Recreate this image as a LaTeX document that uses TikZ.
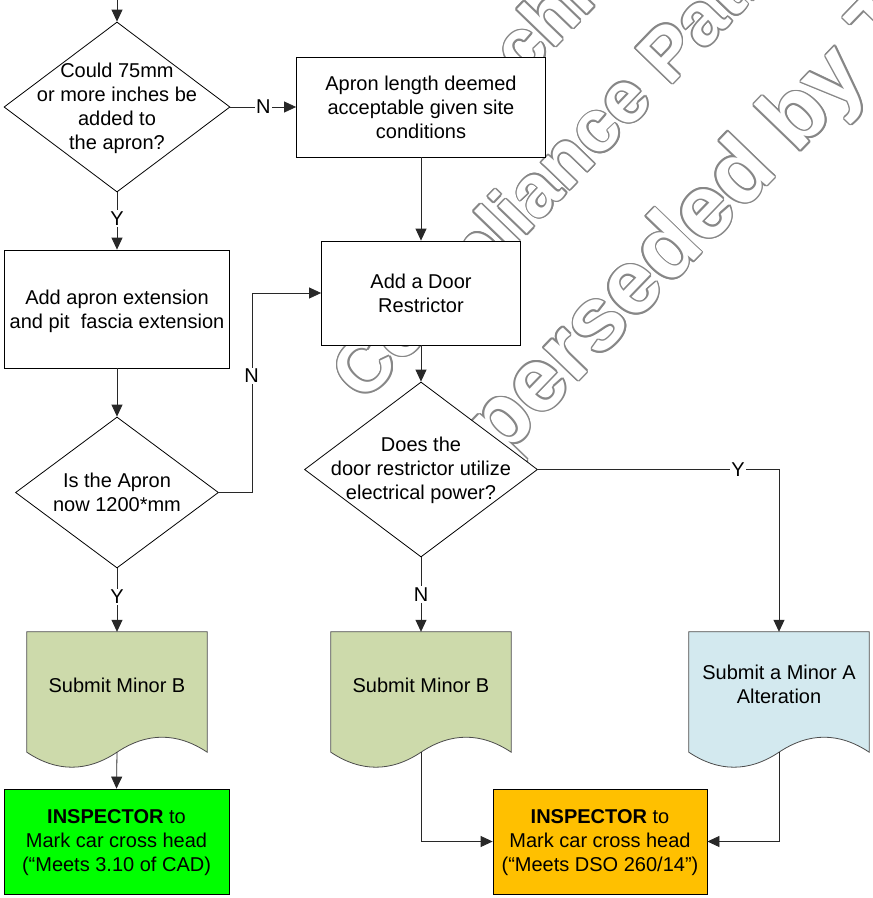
\documentclass[tikz,border=0pt]{standalone}
\usepackage{fontspec}
\setmainfont{Liberation Sans}
\usetikzlibrary{arrows.meta,shapes.geometric,calc}
\definecolor{olivefill}{RGB}{205,218,171}
\definecolor{bluefill}{RGB}{211,233,239}
\definecolor{insgreen}{RGB}{0,255,0}
\definecolor{insorange}{RGB}{255,192,0}
\definecolor{wmgray}{RGB}{135,135,135}
\definecolor{linegray}{RGB}{40,40,40}
\begin{document}
\begin{tikzpicture}[x=1pt,y=-1pt,
  every node/.style={font=\fontsize{20}{24}\selectfont},
  boxst/.style={draw=black, line width=0.8pt, rectangle, inner sep=0pt, align=center},
  decst/.style={draw=black, fill=white, line width=0.8pt, diamond, inner sep=0pt},
  txtst/.style={align=center, inner sep=0pt},
  conn/.style={draw=linegray, line width=0.8pt},
  arr/.style={conn, -{Triangle[length=12pt,width=11pt]}},
  lbl/.style={fill=white, inner sep=1.5pt},
  docst/.style={draw=black!70, line width=0.8pt},
  docnode/.style={minimum width=180pt, minimum height=120pt, inner sep=0pt},
  wmtext/.style={rotate=46, anchor=base west, inner sep=0pt},
  wmA/.style={font=\bfseries\fontsize{74}{74}\selectfont},
  wmC/.style={font=\bfseries\fontsize{90}{90}\selectfont}
]
\useasboundingbox (0,0) rectangle (873,898);
\fill[white] (0,0) rectangle (873,898);
% watermark
\begin{scope}
\clip (0,0) rectangle (873,898);
\foreach \a in {0,30,...,330} {
  \node[wmtext, wmA, text=wmgray] (wa\a) at ($(467.4,138.2)+(\a:1.6)$) {Technical};
  \node[wmtext, wmA, text=wmgray] (wb\a) at ($(363.5,403.6)+(\a:1.6)$) {Compliance Path};
  \node[wmtext, wmC, text=wmgray] (wc\a) at ($(421.3,543.5)+(\a:1.6)$) {Superseded by T};
}
\node[wmtext, wmA, text=white] (wa) at (467.4,138.2) {Technical};
\node[wmtext, wmA, text=white] (wb) at (363.5,403.6) {Compliance Path};
\node[wmtext, wmC, text=white] (wc) at (421.3,543.5) {Superseded by T};
\end{scope}

% decisions
\node[decst, minimum width=226pt, minimum height=170pt] (d1) at (117,107) {};
\node[txtst] (d1t) at (117,108.5) {Could 75mm\\or more inches be\\added to\\the apron?};
\node[decst, minimum width=203pt, minimum height=151pt] (d2) at (117,492.5) {};
\node[txtst] (d2t) at (117,492.5) {Is the Apron\\now 1200*mm};
\node[decst, minimum width=233pt, minimum height=175pt] (d3) at (421,469.5) {};
\node[txtst] (d3t) at (421,470.5) {Does the\\door restrictor utilize\\electrical power?};

% process boxes
\node[boxst, fill=white, minimum width=249pt, minimum height=100pt] (b2) at (421,107) {Apron length deemed\\acceptable given site\\conditions};
\node[boxst, fill=white, minimum width=199pt, minimum height=104pt] (b3) at (421,293) {Add a Door\\Restrictor};
\node[boxst, fill=white, minimum width=225pt, minimum height=118pt] (b4) at (117,309) {};
\node[txtst] (b4t) at (117,311) {Add apron extension\\and pit\ \ fascia extension};

% documents
\node[docnode] (doc1) at (117,692) {};
\path[docst, fill=olivefill] (doc1.south west) -- (doc1.north west) -- (doc1.north east) -- (doc1.south east) .. controls +(-30,-20) and +(30,-20) .. (doc1.south) .. controls +(-30,20) and +(30,20) .. (doc1.south west) -- cycle;
\node[txtst] (doc1t) at (117,685) {Submit Minor B};
\node[docnode] (doc2) at (421,692) {};
\path[docst, fill=olivefill] (doc2.south west) -- (doc2.north west) -- (doc2.north east) -- (doc2.south east) .. controls +(-30,-20) and +(30,-20) .. (doc2.south) .. controls +(-30,20) and +(30,20) .. (doc2.south west) -- cycle;
\node[txtst] (doc2t) at (421,685) {Submit Minor B};
\node[docnode] (doc3) at (779,692) {};
\path[docst, fill=bluefill] (doc3.south west) -- (doc3.north west) -- (doc3.north east) -- (doc3.south east) .. controls +(-30,-20) and +(30,-20) .. (doc3.south) .. controls +(-30,20) and +(30,20) .. (doc3.south west) -- cycle;
\node[txtst] (doc3t) at (779,684) {Submit a Minor A\\Alteration};

% inspectors
\node[boxst, fill=insgreen, minimum width=225pt, minimum height=105pt] (i1) at (116.5,841.5) {};
\node[txtst] (i1t) at (116.5,843) {\textbf{INSPECTOR} to\\Mark car cross head\\(“Meets 3.10 of CAD)};
\node[boxst, fill=insorange, minimum width=214pt, minimum height=105pt] (i2) at (600,841.5) {};
\node[txtst] (i2t) at (600,843) {\textbf{INSPECTOR} to\\Mark car cross head\\(“Meets DSO 260/14”)};

% connectors
\coordinate (top) at (117,0);
\draw[arr] (top) -- (d1.north);
\draw[arr] (d1.east) -- node[lbl] (lN1) {N} (b2.west);
\draw[arr] (d1.south) -- node[lbl, pos=0.45] (lY1) {Y} (b4.north);
\draw[arr] (b2.south) -- (b3.north);
\draw[arr] (b4.south) -- (d2.north);
\draw[arr] (d2.east) -- ++(33,0) |- (b3.west);
\node[lbl] (lN2) at (251.5,376) {N};
\draw[arr] (d2.south) -- node[lbl, pos=0.45] (lY2) {Y} (doc1.north);
\draw[arr] (b3.south) -- (d3.north);
\draw[arr] (d3.south) -- node[lbl] (lN3) {N} (doc2.north);
\draw[arr] (d3.east) -| (doc3.north);
\node[lbl] (lY3) at (738,469.5) {Y};
\draw[arr] (doc1.south) -- (i1.north);
\draw[arr] (doc2.south) |- (i2.west);
\draw[arr] (doc3.south) |- (i2.east);
\end{tikzpicture}
\end{document}
